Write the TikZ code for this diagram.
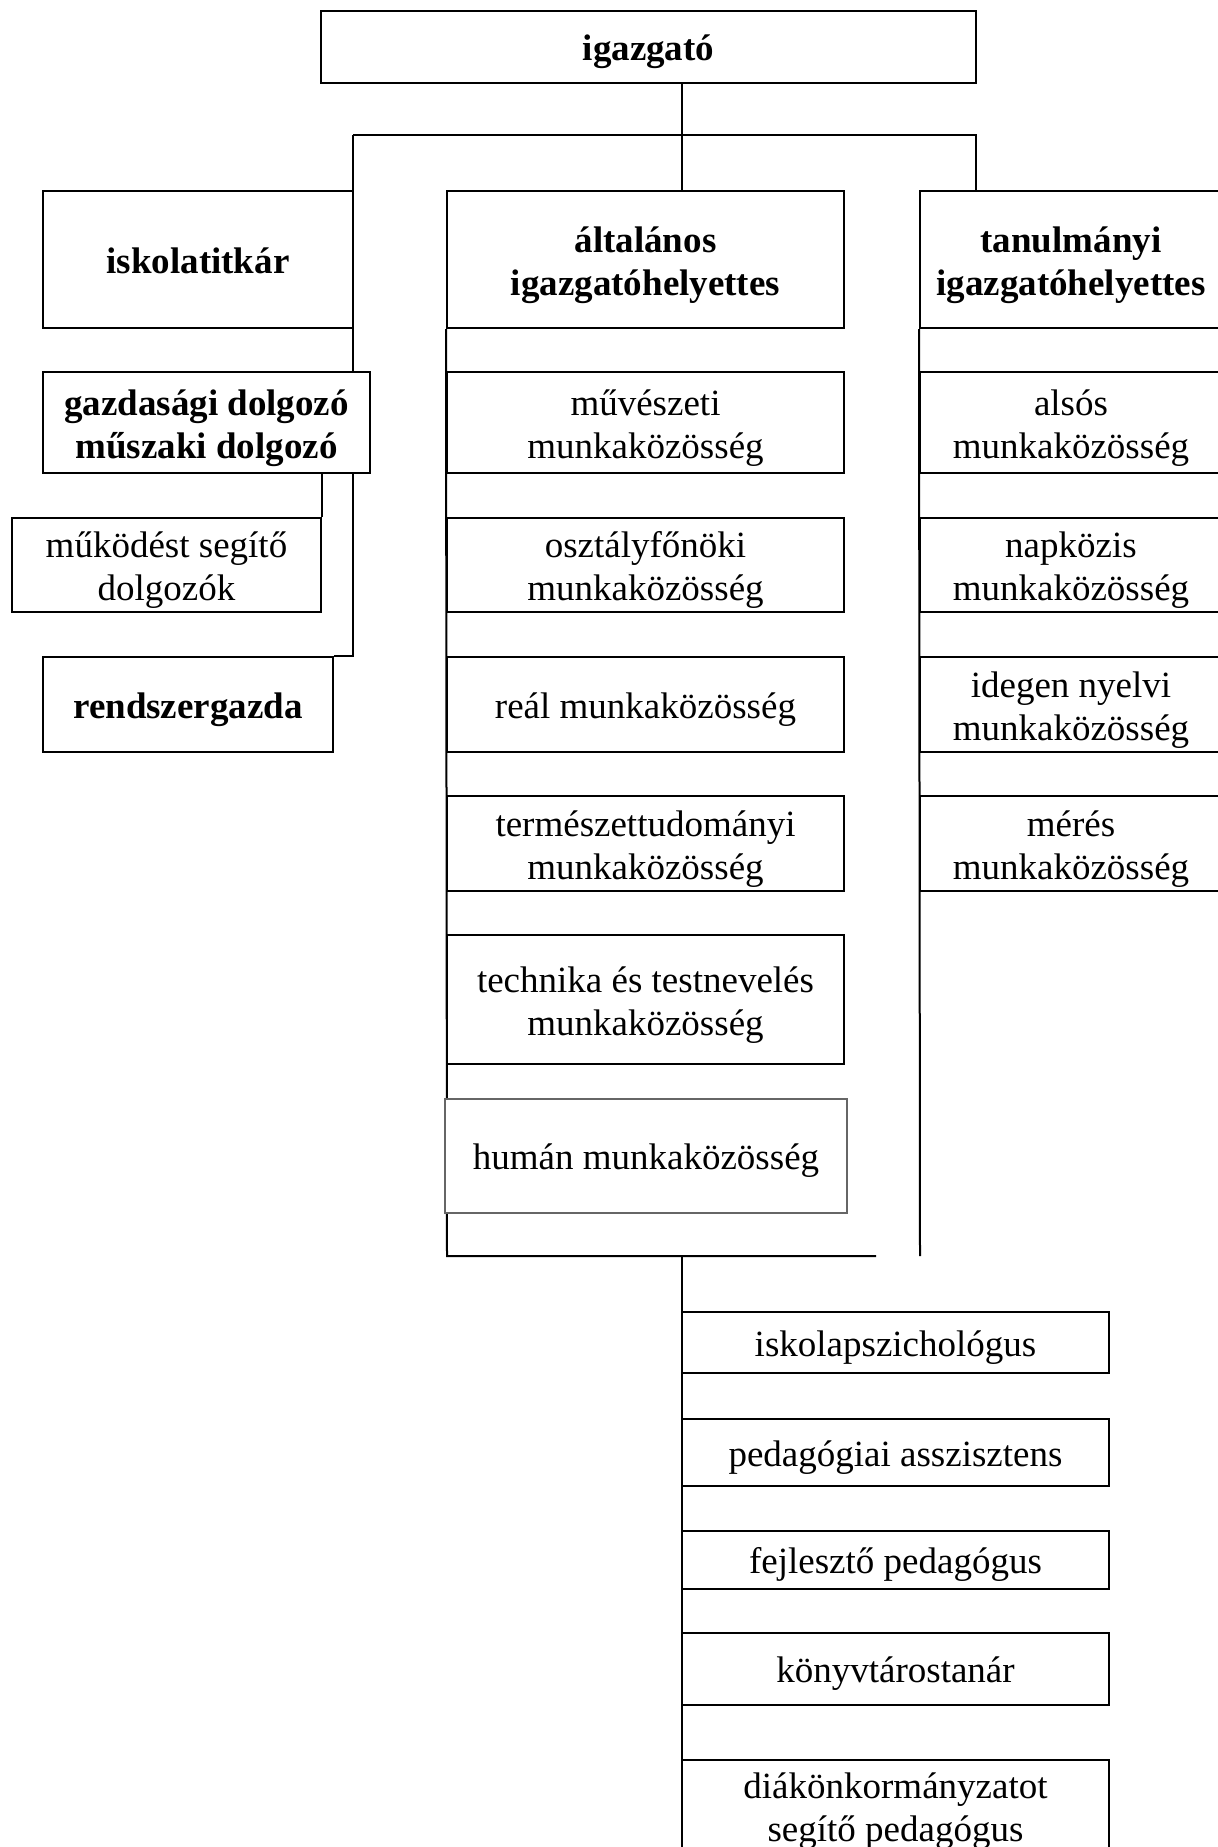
\documentclass[tikz,border=0pt]{standalone}
\usepackage{fontspec}
\setmainfont{Liberation Serif}
\usetikzlibrary{backgrounds}
\newcommand\olin[1]{\rule{0pt}{18pt}#1\rule[-4.4pt]{0pt}{0pt}}
\newcommand\tlin[2]{\rule{0pt}{18.5pt}#1\\#2\rule[-4.4pt]{0pt}{0pt}}
\begin{document}
\begin{tikzpicture}[x=0.5pt,y=-0.5pt,
  orgbox/.style={inner sep=0pt, draw, line width=1pt, fill=white, align=center, anchor=center,
    font=\fontsize{18.5pt}{21.6pt}\selectfont},
  boldbox/.style={orgbox, font=\fontsize{18.5pt}{21.6pt}\selectfont\bfseries},
  thinbox/.style={orgbox, line width=0.7pt, draw=black!60},
  area/.style n args={4}{minimum width={(#3-#1)*0.5pt}, minimum height={(#4-#2)*0.5pt}, at={({(#1+#3)/2},{(#2+#4)/2})}},
  conn/.style={line width=1pt},
  thinconn/.style={line width=0.65pt}]
\useasboundingbox (0,0) rectangle (1218,1847);

% top
\node[boldbox, area={321}{11}{976}{83}] (dir) {\olin{igazgató}};
\node[boldbox, area={43}{191}{353}{328}] (isk) {\olin{iskolatitkár}};
\node[boldbox, area={447}{191}{844}{328}] (alt) {\tlin{általános}{igazgatóhelyettes}};
\node[boldbox, area={920}{191}{1222}{328}] (tan) {\tlin{tanulmányi}{igazgatóhelyettes}};

% left column
\node[boldbox, area={43}{372}{370}{473}] (gaz) {\tlin{gazdasági dolgozó}{műszaki dolgozó}};
\node[orgbox, area={12}{518}{321}{612}] (muk) {\tlin{működést segítő}{dolgozók}};
\node[boldbox, area={43}{657}{333}{752}] (rsz) {\olin{rendszergazda}};

% middle column
\node[orgbox, area={447}{372}{844}{473}] (m1) {\tlin{művészeti}{munkaközösség}};
\node[orgbox, area={447}{518}{844}{612}] (m2) {\tlin{osztályfőnöki}{munkaközösség}};
\node[orgbox, area={447}{657}{844}{752}] (m3) {\olin{reál munkaközösség}};
\node[orgbox, area={447}{796}{844}{891}] (m4) {\tlin{természettudományi}{munkaközösség}};
\node[orgbox, area={447}{935}{844}{1064}] (m5) {\tlin{technika és testnevelés}{munkaközösség}};
\node[thinbox, area={445}{1099}{847}{1213}] (m6) {\olin{humán munkaközösség}};

% right column
\node[orgbox, area={920}{372}{1222}{473}] (t1) {\tlin{alsós}{munkaközösség}};
\node[orgbox, area={920}{518}{1222}{612}] (t2) {\tlin{napközis}{munkaközösség}};
\node[orgbox, area={920}{657}{1222}{752}] (t3) {\tlin{idegen nyelvi}{munkaközösség}};
\node[orgbox, area={920}{796}{1222}{891}] (t4) {\tlin{mérés}{munkaközösség}};

% bottom column
\node[orgbox, area={682}{1312}{1109}{1373}] (l1) {\olin{iskolapszichológus}};
\node[orgbox, area={682}{1419}{1109}{1486}] (l2) {\olin{pedagógiai asszisztens}};
\node[orgbox, area={682}{1531}{1109}{1589}] (l3) {\olin{fejlesztő pedagógus}};
\node[orgbox, area={682}{1633}{1109}{1705}] (l4) {\olin{könyvtárostanár}};
\node[orgbox, area={682}{1760}{1109}{1852}] (l5) {\tlin{diákönkormányzatot}{segítő pedagógus}};

\begin{scope}[on background layer]
  \coordinate (jT) at (682,135);
  \coordinate (jL) at (353,135);
  \coordinate (jR) at (976,135);
  \coordinate (bL) at (447,1256);
  \coordinate (bE) at (876,1256);
  \coordinate (bR) at (920,1256);
  \coordinate (bM) at (682,1256);
  \coordinate (bot) at (682,1870);
  \draw[thinconn] (dir.south -| jT) -- (alt.north -| jT);
  \draw[conn] (jL) -- (jR) -- (tan.north -| jR);
  \draw[conn] (jL) -- (rsz.north -| jL) -- (rsz.north east);
  \draw[conn] (gaz.south -| muk.north east) -- (muk.north east);
  \draw[conn] (alt.south west) -- (bL) -- (bE);
  \draw[conn] (tan.south west) -- (bR);
  \draw[conn] (bM) -- (bot);
\end{scope}
\end{tikzpicture}
\end{document}
